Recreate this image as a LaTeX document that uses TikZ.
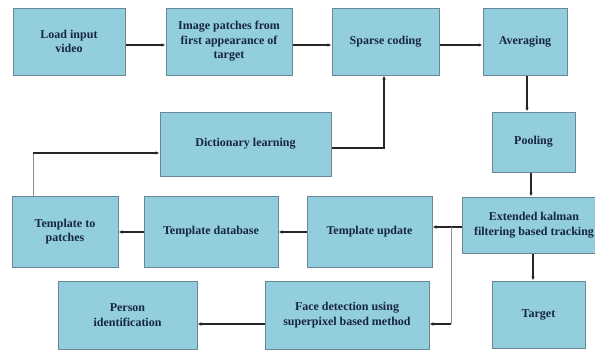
\documentclass[tikz,border=0pt]{standalone}
\usepackage{fontspec}
\setmainfont{Liberation Serif}
\usetikzlibrary{arrows.meta,calc}
\definecolor{boxfill}{RGB}{147,206,222}
\definecolor{boxline}{RGB}{105,135,150}
\definecolor{txt}{RGB}{22,38,62}
\begin{document}
\begin{tikzpicture}[x=1pt,y=-1pt,
 box/.style={draw=boxline, line width=1pt, fill=boxfill, align=center,
   font=\fontsize{12}{14.5}\selectfont\bfseries, text=txt, inner sep=2pt},
 arr/.style={-{Latex[length=4pt,width=3.5pt]}, line width=1.1pt, black!85},
 thinline/.style={line width=0.8pt, black!45}]
\useasboundingbox (0,0) rectangle (595,351);
\fill[white] (0,0) rectangle (595,351);

\node[box, minimum width=112pt, minimum height=67pt] (load) at (69,41.5) {Load input\\video};
\node[box, minimum width=126pt, minimum height=67pt] (img) at (229,41.5) {Image patches from\\first appearance of\\target};
\node[box, minimum width=107pt, minimum height=67pt] (sparse) at (385.5,41.5) {Sparse coding};
\node[box, minimum width=84pt, minimum height=67pt] (avg) at (525,41.5) {Averaging};
\node[box, minimum width=83pt, minimum height=60pt] (pool) at (533.5,142) {Pooling};
\node[box, minimum width=171pt, minimum height=64pt] (dict) at (245.5,144) {Dictionary learning};
\node[box, minimum width=106pt, minimum height=71pt] (tpatch) at (65,231.5) {Template to\\patches};
\node[box, minimum width=134pt, minimum height=71pt] (tdb) at (211,231.5) {Template database};
\node[box, minimum width=125pt, minimum height=71pt] (tupd) at (369.5,231.5) {Template update};
\node[box, minimum width=144pt, minimum height=56pt] (ekf) at (534,225) {Extended kalman\\filtering based tracking};
\node[box, minimum width=93pt, minimum height=67pt] (target) at (538.5,314.5) {Target};
\node[box, minimum width=139pt, minimum height=68pt] (person) at (127.5,315) {Person\\identification};
\node[box, minimum width=164pt, minimum height=68pt] (face) at (347,315) {Face detection using\\superpixel based method};

% top row
\draw[arr] ([yshift=-3.5pt]load.east) -- ([yshift=-3.5pt]img.west);
\draw[arr] ([yshift=-3.5pt]img.east) -- ([yshift=-3.5pt]sparse.west);
\draw[arr] ([yshift=-3.5pt]sparse.east) -- ([yshift=-3.5pt]avg.west);
% right column
\draw[arr] ([xshift=2pt]avg.south) -- ([xshift=2pt]avg.south |- pool.north);
\draw[arr] ([xshift=-2.5pt]pool.south) -- ([xshift=-2.5pt]pool.south |- ekf.north);
\draw[arr] ([xshift=-1pt]ekf.south) -- ([xshift=-1pt]ekf.south |- target.north);
% tracking to template update
\coordinate (e1) at ([yshift=-2pt]ekf.west);
\draw[arr] (e1) -- (e1 -| tupd.east);
\draw[arr] ([yshift=-0.5pt]tupd.west) -- ([yshift=-0.5pt]tdb.east);
\draw[arr] ([yshift=-0.5pt]tdb.west) -- ([yshift=-0.5pt]tpatch.east);
% template to patches up to dictionary
\coordinate (c0) at ([xshift=-32pt]tpatch.north);
\coordinate (c1) at ([yshift=-9pt]dict.west);
\draw[thinline] (c0) -- (c0 |- c1);
\draw[arr] (c0 |- c1) -- (c1);
% dictionary to sparse coding
\draw[arr] ([yshift=-4pt]dict.east) -| ([xshift=-1.5pt]sparse.south);
% branch to face detection
\coordinate (br) at (451,0 |- e1);
\coordinate (f1) at ([yshift=-9pt]face.east);
\draw[thinline] (br) -- (br |- f1);
\draw[arr] (br |- f1) -- (f1);
\draw[arr] ([yshift=-9pt]face.west) -- ([yshift=-9pt]person.east);
\end{tikzpicture}
\end{document}
